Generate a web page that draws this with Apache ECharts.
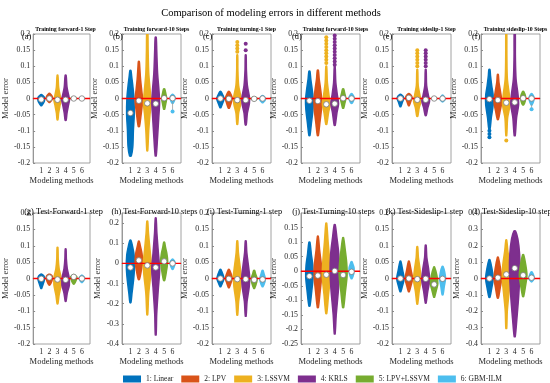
<!DOCTYPE html>
<html><head><meta charset="utf-8">
<script src="https://cdn.jsdelivr.net/npm/echarts@6/dist/echarts.min.js"></script>
<style>html,body{margin:0;padding:0;background:#fff}#c{width:550px;height:383px}</style>
</head><body><div id="c"></div>
<script>
// ---------------- DATA ----------------
const mainTitle = 'Comparison of modeling errors in different methods';
const methods = ['1: Linear', '2: LPV', '3: LSSVM', '4: KRLS', '5: LPV+LSSVM', '6: GBM-ILM'];
const methodTicks = [1, 2, 3, 4, 5, 6];
const panelLetters = ['(a)', '(b)', '(c)', '(d)', '(e)', '(f)', '(g)', '(h)', '(i)', '(j)', '(k)', '(l)'];
const panelTitles = ['Training forward-1 Step', 'Training forward-10 Steps', 'Training turning-1 Step',
  'Training forward-10 Steps', 'Training sideslip-1 Step', 'Training sideslip-10 Steps',
  'Test-Forward-1 step', 'Test-Forward-10 steps', 'Test-Turning-1 step',
  'Test-Turning-10 steps', 'Test-Sideslip-1 step', 'Test-Sideslip-10 steps'];
const yMins = [-0.2, -0.2, -0.2, -0.2, -0.2, -0.2, -0.2, -0.4, -0.2, -0.25, -0.2, -0.4];
const yMaxs = [0.2, 0.2, 0.2, 0.2, 0.2, 0.2, 0.2, 0.25, 0.2, 0.2, 0.2, 0.4];
const yIntervals = [0.05, 0.05, 0.05, 0.05, 0.05, 0.05, 0.05, 0.1, 0.05, 0.05, 0.05, 0.1];
const zeroLine = [[0, 0], [7, 0]];

// violin outlines: per panel, per method, [error value, half width in method units]
const profA = [
  [[-0.022,0.05],[-0.014,0.28],[-0.004,0.42],[0.004,0.38],[0.012,0.06]],
  [[-0.012,0.05],[-0.005,0.3],[0.002,0.4],[0.009,0.3],[0.016,0.05]],
  [[-0.066,0.05],[-0.045,0.14],[-0.02,0.32],[-0.004,0.45],[0.01,0.32],[0.035,0.14],[0.072,0.05]],
  [[-0.068,0.06],[-0.045,0.17],[-0.02,0.36],[-0.004,0.48],[0.012,0.36],[0.035,0.17],[0.072,0.06]],
  [[-0.004,0.1],[0,0.35],[0.005,0.1]],
  [[-0.003,0.1],[0,0.35],[0.004,0.1]]];
const profB = [
  [[-0.178,0.1],[-0.15,0.28],[-0.1,0.35],[-0.05,0.45],[0,0.42],[0.04,0.28],[0.07,0.14],[0.087,0.06]],
  [[-0.087,0.07],[-0.06,0.22],[-0.03,0.36],[-0.005,0.46],[0.02,0.36],[0.06,0.2],[0.1,0.1],[0.115,0.05]],
  [[-0.162,0.05],[-0.1,0.17],[-0.05,0.32],[-0.015,0.46],[0.02,0.36],[0.08,0.17],[0.15,0.1],[0.21,0.06]],
  [[-0.178,0.06],[-0.12,0.22],[-0.06,0.36],[-0.015,0.46],[0.02,0.4],[0.08,0.22],[0.15,0.12],[0.19,0.06]],
  [[-0.033,0.06],[-0.015,0.2],[0,0.3],[0.015,0.2],[0.03,0.06]],
  [[-0.015,0.06],[-0.005,0.25],[0.003,0.3],[0.012,0.08]]];
const profC = [
  [[-0.028,0.06],[-0.012,0.3],[0,0.45],[0.01,0.3],[0.022,0.06]],
  [[-0.03,0.06],[-0.012,0.3],[0,0.42],[0.01,0.3],[0.022,0.06]],
  [[-0.08,0.05],[-0.045,0.16],[-0.015,0.42],[0.005,0.42],[0.04,0.16],[0.09,0.07],[0.135,0.05]],
  [[-0.082,0.06],[-0.045,0.2],[-0.015,0.44],[0.005,0.44],[0.04,0.2],[0.09,0.08],[0.135,0.05]],
  [[-0.006,0.1],[0,0.38],[0.005,0.1]],
  [[-0.012,0.08],[-0.002,0.35],[0.008,0.1]]];
const profD = [
  [[-0.115,0.06],[-0.08,0.22],[-0.035,0.42],[-0.005,0.46],[0.03,0.32],[0.06,0.16],[0.085,0.06]],
  [[-0.115,0.06],[-0.08,0.22],[-0.035,0.42],[-0.005,0.46],[0.03,0.32],[0.06,0.16],[0.088,0.06]],
  [[-0.08,0.06],[-0.045,0.26],[-0.018,0.46],[0.01,0.32],[0.05,0.13],[0.1,0.05]],
  [[-0.083,0.06],[-0.045,0.26],[-0.016,0.46],[0.01,0.32],[0.05,0.13],[0.1,0.05]],
  [[-0.03,0.06],[-0.015,0.2],[0,0.32],[0.015,0.2],[0.03,0.06]],
  [[-0.015,0.06],[-0.005,0.25],[0.003,0.32],[0.015,0.06]]];
const profE = [
  [[-0.025,0.05],[-0.01,0.25],[0,0.4],[0.007,0.3],[0.013,0.06]],
  [[-0.022,0.05],[-0.008,0.25],[0.002,0.4],[0.009,0.3],[0.015,0.06]],
  [[-0.055,0.06],[-0.03,0.22],[-0.008,0.44],[0.01,0.32],[0.04,0.11],[0.09,0.05]],
  [[-0.053,0.06],[-0.03,0.24],[-0.008,0.46],[0.01,0.32],[0.04,0.11],[0.09,0.05]],
  [[-0.004,0.1],[0,0.35],[0.004,0.1]],
  [[-0.01,0.06],[-0.002,0.32],[0.01,0.06]]];
const profF = [
  [[-0.095,0.07],[-0.06,0.22],[-0.02,0.44],[0.01,0.44],[0.04,0.27],[0.07,0.13],[0.09,0.06]],
  [[-0.065,0.06],[-0.04,0.26],[-0.01,0.46],[0.02,0.32],[0.05,0.13],[0.075,0.05]],
  [[-0.115,0.05],[-0.06,0.16],[-0.02,0.44],[0.01,0.37],[0.06,0.13],[0.13,0.07],[0.21,0.05]],
  [[-0.115,0.06],[-0.06,0.22],[-0.02,0.46],[0.01,0.4],[0.06,0.16],[0.13,0.08],[0.21,0.06]],
  [[-0.02,0.06],[-0.008,0.25],[0.005,0.3],[0.022,0.06]],
  [[-0.02,0.05],[-0.005,0.28],[0.005,0.28],[0.015,0.06]]];
const profG = [
  [[-0.03,0.05],[-0.012,0.3],[0,0.42],[0.008,0.32],[0.013,0.06]],
  [[-0.02,0.05],[-0.008,0.3],[0.003,0.4],[0.009,0.3],[0.013,0.06]],
  [[-0.077,0.05],[-0.05,0.2],[-0.02,0.44],[0.005,0.42],[0.03,0.2],[0.06,0.09],[0.095,0.05]],
  [[-0.07,0.05],[-0.045,0.2],[-0.02,0.46],[0.005,0.42],[0.03,0.2],[0.06,0.09],[0.09,0.05]],
  [[-0.017,0.05],[-0.005,0.3],[0.005,0.38],[0.012,0.06]],
  [[-0.012,0.05],[-0.003,0.3],[0.003,0.32],[0.01,0.05]]];
const profH = [
  [[-0.195,0.06],[-0.15,0.18],[-0.08,0.38],[-0.02,0.48],[0.04,0.44],[0.09,0.22],[0.115,0.06]],
  [[-0.08,0.06],[-0.04,0.27],[0.01,0.44],[0.05,0.37],[0.09,0.16],[0.11,0.05]],
  [[-0.255,0.05],[-0.15,0.17],[-0.05,0.42],[0,0.47],[0.07,0.32],[0.15,0.14],[0.21,0.05]],
  [[-0.355,0.05],[-0.25,0.12],[-0.12,0.32],[-0.03,0.47],[0.05,0.32],[0.15,0.14],[0.225,0.05]],
  [[-0.085,0.06],[-0.04,0.27],[0.01,0.42],[0.05,0.32],[0.08,0.16],[0.105,0.05]],
  [[-0.03,0.05],[-0.01,0.25],[0.005,0.3],[0.02,0.06]]];
const profI = [
  [[-0.025,0.05],[-0.01,0.3],[0,0.42],[0.012,0.3],[0.028,0.05]],
  [[-0.028,0.05],[-0.01,0.3],[0,0.42],[0.012,0.3],[0.028,0.05]],
  [[-0.112,0.05],[-0.07,0.16],[-0.025,0.4],[0.005,0.47],[0.04,0.32],[0.08,0.13],[0.115,0.05]],
  [[-0.115,0.05],[-0.07,0.16],[-0.025,0.42],[0.005,0.47],[0.04,0.32],[0.08,0.13],[0.115,0.05]],
  [[-0.03,0.05],[-0.012,0.3],[0,0.35],[0.012,0.2],[0.025,0.05]],
  [[-0.025,0.05],[-0.01,0.28],[0,0.32],[0.012,0.2],[0.025,0.05]]];
const profJ = [
  [[-0.12,0.06],[-0.07,0.27],[-0.02,0.44],[0.02,0.4],[0.06,0.22],[0.1,0.06]],
  [[-0.125,0.06],[-0.07,0.27],[-0.02,0.44],[0.02,0.42],[0.07,0.22],[0.12,0.05]],
  [[-0.145,0.06],[-0.08,0.27],[-0.02,0.47],[0.03,0.42],[0.1,0.22],[0.165,0.05]],
  [[-0.215,0.05],[-0.15,0.18],[-0.06,0.45],[0,0.55],[0.06,0.48],[0.12,0.24],[0.16,0.06]],
  [[-0.125,0.06],[-0.07,0.27],[-0.015,0.47],[0.03,0.42],[0.08,0.22],[0.115,0.05]],
  [[-0.025,0.05],[-0.01,0.25],[0.01,0.3],[0.025,0.15],[0.033,0.05]]];
const profK = [
  [[-0.04,0.05],[-0.02,0.27],[0,0.44],[0.025,0.27],[0.053,0.05]],
  [[-0.04,0.05],[-0.02,0.27],[0,0.44],[0.025,0.27],[0.053,0.05]],
  [[-0.078,0.05],[-0.04,0.22],[-0.005,0.44],[0.03,0.32],[0.065,0.13],[0.097,0.05]],
  [[-0.075,0.05],[-0.04,0.24],[-0.005,0.47],[0.03,0.34],[0.065,0.13],[0.102,0.05]],
  [[-0.057,0.05],[-0.035,0.27],[-0.015,0.44],[0.01,0.32],[0.035,0.05]],
  [[-0.05,0.05],[-0.025,0.2],[0,0.35],[0.02,0.25],[0.037,0.05]]];
const profL = [
  [[-0.115,0.06],[-0.06,0.27],[0,0.45],[0.06,0.3],[0.115,0.06]],
  [[-0.12,0.06],[-0.06,0.27],[0,0.45],[0.06,0.32],[0.13,0.05]],
  [[-0.305,0.05],[-0.2,0.12],[-0.08,0.34],[0,0.48],[0.08,0.42],[0.17,0.18],[0.235,0.05]],
  [[-0.355,0.06],[-0.25,0.25],[-0.1,0.48],[0.05,0.62],[0.15,0.58],[0.24,0.38],[0.29,0.1]],
  [[-0.11,0.06],[-0.05,0.27],[0.02,0.45],[0.08,0.32],[0.145,0.06]],
  [[-0.02,0.05],[-0.005,0.28],[0.01,0.3],[0.04,0.06]]];
const profiles = [profA, profB, profC, profD, profE, profF, profG, profH, profI, profJ, profK, profL];

// medians per panel (methods 1..6)
const medians = [
  [-0.003, 0.0, -0.004, -0.004, 0.0, 0.0],
  [-0.045, -0.007, -0.015, -0.016, 0.001, 0.001],
  [0, -0.001, -0.005, -0.005, -0.001, 0],
  [-0.007, -0.008, -0.018, -0.016, 0.001, 0],
  [0, 0.002, -0.004, -0.004, 0, 0],
  [-0.002, -0.005, -0.013, -0.012, 0.001, 0],
  [-0.001, 0.003, -0.003, -0.004, 0.005, 0],
  [-0.02, 0.015, -0.01, -0.02, 0.01, 0],
  [0, -0.001, -0.002, -0.002, -0.004, -0.003],
  [-0.017, -0.015, -0.012, 0.001, -0.013, -0.002],
  [0, 0, -0.002, -0.001, -0.018, -0.001],
  [0, 0.005, 0.025, 0.063, 0.02, 0.005]];

// outlier points per panel: [method, error]
const outliers = [
  [],
  [[6, -0.04]],
  [[3, 0.145], [3, 0.155], [3, 0.165], [3, 0.175], [4, 0.15], [4, 0.17]],
  [[3, 0.11], [3, 0.12], [3, 0.13], [3, 0.14], [3, 0.15], [3, 0.16], [3, 0.17], [3, 0.18], [3, 0.19],
   [4, 0.105], [4, 0.115], [4, 0.125], [4, 0.135], [4, 0.145], [4, 0.155], [4, 0.165], [4, 0.175], [4, 0.185], [4, 0.195]],
  [[3, 0.1], [3, 0.11], [3, 0.12], [3, 0.13], [3, 0.14], [3, 0.15], [4, 0.1], [4, 0.11], [4, 0.12], [4, 0.13], [4, 0.14], [4, 0.15]],
  [[1, -0.1], [1, -0.11], [1, -0.12], [3, -0.13], [6, -0.033]],
  [], [], [], [], [], []];
// whiskers: [panel index, method, from, to]
const whiskers = [[1, 6, -0.012, -0.04], [5, 6, -0.018, -0.033]];

// ---------------- STYLE / LAYOUT ----------------
const colors = ['#0072BD', '#D95319', '#EDB120', '#7E2F8E', '#77AC30', '#4DBEEE'];
const FONT = '"Liberation Serif", "Times New Roman", serif';
const gridLefts = [31, 122, 212, 301, 392, 481];
const gridW = 59;
const rowTops = [34, 213];
const rowHeights = [129, 131];

const grids = [], xAxes = [], yAxes = [], series = [], titles = [];
titles.push({ text: mainTitle, left: 266, top: 3, textAlign: 'center',
  textStyle: { fontFamily: FONT, fontSize: 10.5, fontWeight: 'normal', color: '#000' } });

for (let p = 0; p < 12; p++) {
  const row = p < 6 ? 0 : 1, col = p % 6;
  const left = gridLefts[col];
  grids.push({ left: left, top: rowTops[row], width: gridW, height: rowHeights[row],
    show: true, borderColor: '#8a8a8a', borderWidth: 0.8, backgroundColor: '#fff' });
  xAxes.push({ gridIndex: p, type: 'value', min: 0, max: 7, interval: 1,
    name: 'Modeling methods', nameLocation: 'middle', nameGap: 13,
    nameTextStyle: { fontFamily: FONT, fontSize: 8.5, color: '#262626' },
    axisLine: { show: true, lineStyle: { color: '#8a8a8a', width: 0.8 } },
    axisTick: { show: true, inside: true, length: 2, lineStyle: { color: '#8a8a8a' },
      customValues: methodTicks },
    splitLine: { show: false },
    axisLabel: { fontFamily: FONT, fontSize: 7.8, color: '#262626', margin: 4,
      customValues: methodTicks,
      formatter: v => (methodTicks.indexOf(v) >= 0 ? String(v) : '') } });
  yAxes.push({ gridIndex: p, type: 'value', min: yMins[p], max: yMaxs[p], interval: yIntervals[p],
    name: 'Model error', nameLocation: 'middle', nameGap: 17,
    nameTextStyle: { fontFamily: FONT, fontSize: 8.5, color: '#262626' },
    axisLine: { show: true, lineStyle: { color: '#8a8a8a', width: 0.8 } },
    axisTick: { show: true, inside: true, length: 2, lineStyle: { color: '#8a8a8a' } },
    splitLine: { show: false },
    axisLabel: { fontFamily: FONT, fontSize: 7.8, color: '#262626', margin: 3,
      showMaxLabel: (p === 7 || p === 9) ? false : true,
      formatter: v => String(Math.round(v * 1000) / 1000) } });

  const cx = left + gridW / 2;
  if (row === 0) {
    titles.push({ text: panelTitles[p], left: cx, top: 22, textAlign: 'center',
      textStyle: { fontFamily: FONT, fontSize: 5.8, fontWeight: 'bold', color: '#000' } });
    titles.push({ text: panelLetters[p], left: left - 14, top: 28,
      textStyle: { fontFamily: FONT, fontSize: 8.3, fontWeight: 'normal', color: '#000' } });
  } else {
    titles.push({ text: panelLetters[p] + ' ' + panelTitles[p], left: cx - 2, top: 203, textAlign: 'center',
      textStyle: { fontFamily: FONT, fontSize: 8.3, fontWeight: 'normal', color: '#000' } });
  }

  // violins
  for (let m = 0; m < 6; m++) {
    const prof = profiles[p][m];
    series.push({
      type: 'custom', name: methods[m], xAxisIndex: p, yAxisIndex: p, clip: true, silent: true, z: 2,
      itemStyle: { color: colors[m] },
      data: [[methodTicks[m]]],
      renderItem: function (params, api) {
        const x = api.value(0);
        const pts = [];
        for (let k = 0; k < prof.length; k++) pts.push(api.coord([x - prof[k][1], prof[k][0]]));
        for (let k = prof.length - 1; k >= 0; k--) pts.push(api.coord([x + prof[k][1], prof[k][0]]));
        return { type: 'polygon', shape: { points: pts, smooth: 0.3 },
          style: { fill: api.visual('color'), stroke: api.visual('color'), lineWidth: 1.5, lineJoin: 'round' } };
      }
    });
  }
  // whiskers
  whiskers.filter(w => w[0] === p).forEach(w => {
    series.push({ type: 'line', xAxisIndex: p, yAxisIndex: p, silent: true, z: 2, symbol: 'none',
      data: [[w[1], w[2]], [w[1], w[3]]], lineStyle: { color: '#9a9a9a', width: 0.8 } });
  });
  // outliers
  if (outliers[p].length) {
    series.push({ type: 'scatter', xAxisIndex: p, yAxisIndex: p, silent: true, z: 3, symbolSize: 4,
      data: outliers[p],
      itemStyle: { color: d => colors[d.value[0] - 1], opacity: 1 } });
  }
  // zero line
  series.push({ type: 'line', xAxisIndex: p, yAxisIndex: p, silent: true, z: 4, symbol: 'none',
    data: zeroLine, lineStyle: { color: '#ff0000', width: 1.4 } });
  // medians
  series.push({ type: 'scatter', xAxisIndex: p, yAxisIndex: p, silent: true, z: 5, symbol: 'circle', symbolSize: 5.5,
    data: medians[p].map((v, i) => [methodTicks[i], v]),
    itemStyle: { color: '#ffffff', borderColor: '#7a7a7a', borderWidth: 0.8, opacity: 1 } });
}

const chart = echarts.init(document.getElementById('c'), null, { renderer: 'canvas' });
chart.setOption({
  backgroundColor: '#fff',
  animation: false,
  title: titles,
  grid: grids,
  xAxis: xAxes,
  yAxis: yAxes,
  legend: { data: methods, left: 118, top: 370, icon: 'rect', itemWidth: 18, itemHeight: 7, itemGap: 8,
    selectedMode: false,
    textStyle: { fontFamily: FONT, fontSize: 7.5, color: '#222' } },
  series: series
});
</script>
</body></html>
